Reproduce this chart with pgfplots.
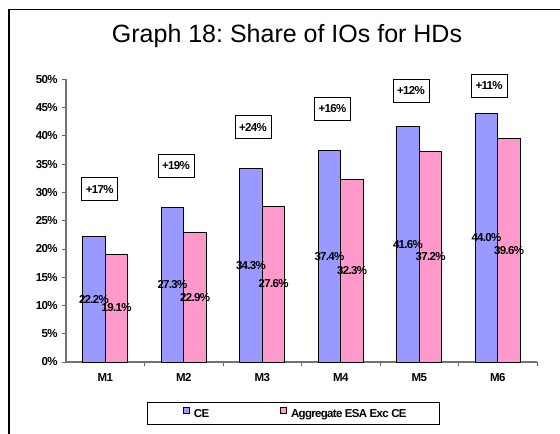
\documentclass[border=0pt]{standalone}
\usepackage{pgfplots}
\pgfplotsset{compat=1.18}
\usepackage{pgfplotstable}
\usepackage{fontspec}
\setmainfont{Liberation Sans}
\newfontfamily\lblfam[LetterSpace=-6]{Liberation Sans}
\frenchspacing
\definecolor{ceblue}{HTML}{9999FF}
\definecolor{esapink}{HTML}{FF99CC}
\pgfplotstableread{
x ce esa
0 22.2 19.1
1 27.3 22.9
2 34.3 27.6
3 37.4 32.3
4 41.6 37.2
5 44.0 39.6
}\datatable
\newcommand{\lblfont}{\lblfam\bfseries\fontsize{11.5bp}{13bp}\selectfont}
\begin{document}
\begin{tikzpicture}
\useasboundingbox (0bp,0bp) rectangle (560bp,434bp);
\draw[line width=1.6bp] (9bp,0bp) -- (9bp,424.3bp) -- (560bp,424.3bp);
\node[anchor=base, inner sep=0pt, font=\fontsize{25bp}{30bp}\selectfont] at (287bp,391bp) {Graph 18: Share of IOs for HDs};
\begin{axis}[
  at={(66bp,72bp)}, anchor=south west,
  scale only axis, width=471bp, height=282.6bp,
  xmin=-0.5, xmax=5.5, ymin=0, ymax=50,
  clip=false,
  axis lines*=left,
  axis line style={draw=black!55, line width=1.3bp},
  tick align=outside,
  tick style={draw=black!60, line width=0.9bp},
  major tick length=4bp,
  xtick={0.5,1.5,2.5,3.5,4.5,5.5},
  xticklabels={},
  extra x ticks={0,1,2,3,4,5},
  extra x tick labels={M1,M2,M3,M4,M5,M6},
  extra x tick style={major tick length=0pt},
  ytick={0,5,...,50},
  yticklabel={\pgfmathprintnumber{\tick}\%},
  /pgf/number format/assume math mode=true,
  ticklabel style={font=\lblfont},
  yticklabel style={xshift=-1bp},
  xticklabel style={yshift=-8bp},
  legend columns=2,
  legend style={at={(0.4824,-0.1815)}, anchor=center, draw=black, line width=0.7bp,
    font=\lblfont, inner xsep=33bp, inner ysep=4.8bp, nodes={inner sep=0pt},
    /tikz/column sep=0pt},
]
\addplot[ybar, bar width=22.6bp, bar shift=-11.3bp, fill=ceblue, draw=black, line width=0.8bp,
  legend image code/.code={\path (-3bp,0bp); \draw[fill=ceblue, draw=black, line width=0.6bp] (0bp,1.1bp) rectangle (6bp,7.1bp); \path (8.3bp,0bp);}]
  table[x=x, y=ce] {\datatable};
\addlegendentry{\hspace{2bp}CE}
\addplot[ybar, bar width=22.6bp, bar shift=11.3bp, fill=esapink, draw=black, line width=0.8bp,
  legend image code/.code={\path (-70.3bp,0bp); \draw[fill=esapink, draw=black, line width=0.6bp] (0bp,1.1bp) rectangle (6bp,7.1bp); \path (8.7bp,0bp);}]
  table[x=x, y=esa] {\datatable};
\addlegendentry{\hspace{2bp}Aggregate ESA Exc CE}
\addplot[draw=none, mark=none, forget plot, point meta=explicit,
  nodes near coords={\pgfmathprintnumber[fixed,fixed zerofill,precision=1]{\pgfplotspointmeta}\%},
  every node near coord/.style={anchor=center, text=black, font=\lblfont, inner sep=0pt}]
  table[x expr=\thisrow{x}-0.144, y expr=\thisrow{ce}/2, meta=ce] {\datatable};
\addplot[draw=none, mark=none, forget plot, point meta=explicit,
  nodes near coords={\pgfmathprintnumber[fixed,fixed zerofill,precision=1]{\pgfplotspointmeta}\%},
  every node near coord/.style={anchor=center, text=black, font=\lblfont, inner sep=0pt}]
  table[x expr=\thisrow{x}+0.144, y expr=\thisrow{esa}/2, meta=esa] {\datatable};
\tikzset{pbox/.style={draw=black, line width=0.7bp, fill=white, minimum width=36bp, minimum height=23bp, inner sep=0pt, font=\lblfont}}
\node[pbox] at (axis cs:-0.071,30.57) {+17\%};
\node[pbox] at (axis cs:0.901,34.69) {+19\%};
\node[pbox] at (axis cs:1.882,41.54) {+24\%};
\node[pbox] at (axis cs:2.895,44.78) {+16\%};
\node[pbox] at (axis cs:3.895,47.96) {+12\%};
\node[pbox] at (axis cs:4.889,48.85) {+11\%};
\end{axis}
\end{tikzpicture}
\end{document}
